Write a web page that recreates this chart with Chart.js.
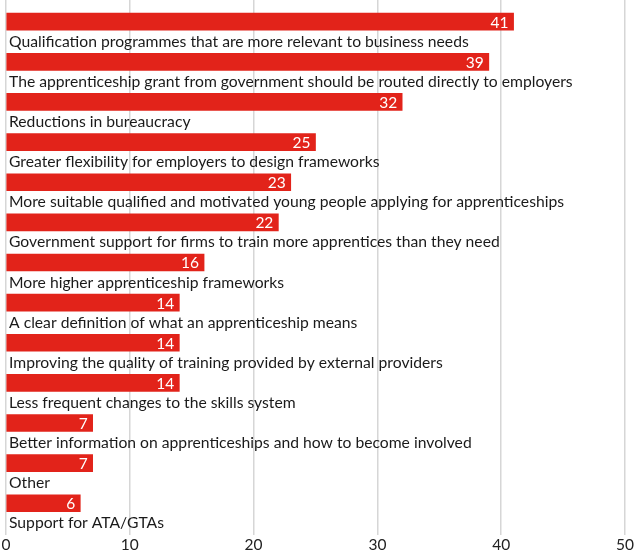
<!DOCTYPE html>
<html>
<head>
<meta charset="utf-8">
<script src="https://cdn.jsdelivr.net/npm/chart.js@4"></script>
<style>
  html, body { margin: 0; padding: 0; background: #fff; }
  #wrap { width: 634px; height: 557px; }
</style>
</head>
<body>
<div id="wrap"><canvas id="chart"></canvas></div>
<script>
const categories = [
  'Qualification programmes that are more relevant to business needs',
  'The apprenticeship grant from government should be routed directly to employers',
  'Reductions in bureaucracy',
  'Greater flexibility for employers to design frameworks',
  'More suitable qualified and motivated young people applying for apprenticeships',
  'Government support for firms to train more apprentices than they need',
  'More higher apprenticeship frameworks',
  'A clear definition of what an apprenticeship means',
  'Improving the quality of training provided by external providers',
  'Less frequent changes to the skills system',
  'Better information on apprenticeships and how to become involved',
  'Other',
  'Support for ATA/GTAs'
];
const values = [41, 39, 32, 25, 23, 22, 16, 14, 14, 14, 7, 7, 6];
const xTicks = [0, 10, 20, 30, 40, 50];

const FONT = 'Lato, "Open Sans", sans-serif';

// value at bar end + category text under each bar
const barLabels = {
  id: 'barLabels',
  afterDatasetsDraw(chart) {
    const ctx = chart.ctx;
    const meta = chart.getDatasetMeta(0);
    ctx.save();
    meta.data.forEach((bar, i) => {
      ctx.textBaseline = 'middle';
      ctx.font = '15.5px ' + FONT;
      ctx.fillStyle = '#ffffff';
      ctx.textAlign = 'right';
      ctx.fillText(String(values[i]), bar.x - 5, bar.y + 1);
      ctx.font = '15.7px ' + FONT;
      ctx.fillStyle = '#1a1a1a';
      ctx.textAlign = 'left';
      ctx.fillText(categories[i], chart.chartArea.left + 3, bar.y + 20);
    });
    ctx.restore();
  }
};

new Chart(document.getElementById('chart'), {
  type: 'bar',
  data: {
    datasets: [{
      data: values.map((v, i) => ({ x: v, y: i })),
      backgroundColor: '#e2231a',
      barThickness: 17
    }]
  },
  options: {
    indexAxis: 'y',
    responsive: true,
    maintainAspectRatio: false,
    animation: false,
    layout: { padding: { left: 6, right: 8, top: 0, bottom: 3 } },
    plugins: { legend: { display: false }, tooltip: { enabled: false } },
    scales: {
      x: {
        type: 'linear',
        min: 0,
        max: 50,
        afterBuildTicks: (axis) => { axis.ticks = xTicks.map(v => ({ value: v })); },
        grid: { color: '#d6d6d6', lineWidth: 1.5, drawTicks: false },
        border: { display: false },
        ticks: { color: '#222', padding: 0, font: { family: FONT, size: 15.5 } }
      },
      y: {
        type: 'linear',
        reverse: true,
        offset: false,
        min: -0.54,
        max: 12.8,
        display: false
      }
    }
  },
  plugins: [barLabels]
});
</script>
</body>
</html>
